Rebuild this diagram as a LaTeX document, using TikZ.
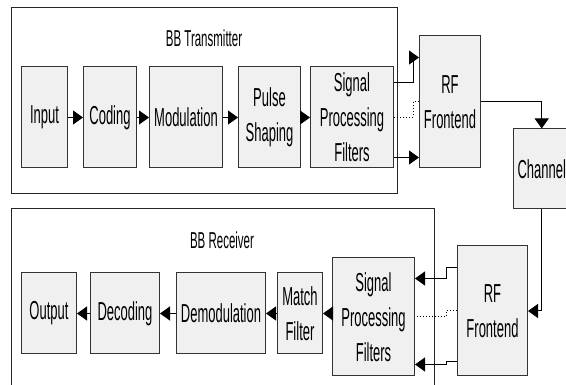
\documentclass[tikz,border=0pt]{standalone}
\usepackage{fontspec}
\setmainfont{Liberation Sans}[FakeStretch=0.5]
\usetikzlibrary{positioning, arrows.meta}

\begin{document}
\begin{tikzpicture}[
        x=1pt, y=-1pt,
        font=\fontsize{26}{35}\selectfont,
        block/.style={
            rectangle,
            draw=black!80,
            fill=gray!12,
            line width=1pt,
            inner sep=2pt,
            minimum height=101pt,
            text centered,
            align=center
        },
        frame/.style={draw=black!85, line width=1pt},
        title/.style={font=\fontsize{23}{26}\selectfont},
        line/.style={draw, -{Triangle[length=10pt, width=14pt]}, line width=1pt},
        dots/.style={draw, dotted, line width=1pt}
    ]
        \clip (0,0) rectangle (566,385);

        % Frames
        \draw [frame] (11,8) rectangle (397,194);
        \draw [frame] (11,400) |- (434,209) -- (434,400);
        \node [title] (txtitle) at (204,38) {BB Transmitter};
        \node [title] (rxtitle) at (222,240) {BB Receiver};

        % Transmitter nodes
        \node [block, minimum width=46pt, anchor=west] (input) at (21,117.5) {Input};
        \node [block, minimum width=53pt, right=15pt of input] (coding) {Coding};
        \node [block, minimum width=73pt, right=12pt of coding] (mod) {Modulation};
        \node [block, minimum width=62pt, right=15pt of mod] (pulse) {Pulse\\Shaping};
        \node [block, minimum width=83pt, right=9pt of pulse] (spftx) {Signal\\Processing\\Filters};
        \node [block, minimum width=61pt, minimum height=132pt, anchor=west] (rftx) at (419,102) {RF\\Frontend};

        % Channel
        \node [block, minimum height=80pt, inner xsep=4pt, anchor=west] (channel) at (513,169) {Channel};

        % Receiver nodes
        \node [block, minimum width=55pt, minimum height=81pt, anchor=west] (output) at (21,313.5) {Output};
        \node [block, minimum width=69pt, minimum height=81pt, right=13pt of output] (decoding) {Decoding};
        \node [block, minimum width=89pt, minimum height=81pt, right=16pt of decoding] (demod) {Demodulation};
        \node [block, minimum width=45pt, minimum height=81pt, right=11pt of demod] (match) {Match\\Filter};
        \node [block, minimum width=82pt, minimum height=118pt, anchor=west] (spfrx) at (332,317) {Signal\\Processing\\Filters};
        \node [block, minimum width=70pt, minimum height=130pt, anchor=west] (rfrx) at (457,311) {RF\\Frontend};

        % Transmitter paths
        \path [line] (input) -- (coding);
        \path [line] (coding) -- (mod);
        \path [line] (mod) -- (pulse);
        \path [line] (pulse) -- (spftx);
        \path [line] ([yshift=-16pt]spftx.north east) -- ++(19,0) |- ([yshift=-22pt]rftx.north west);
        \path [dots] (spftx.east) -- ++(19,0) |- (rftx.west);
        \path [line] ([yshift=11pt]spftx.south east) -- ([yshift=11pt]rftx.south west);

        % Channel paths
        \path [line] (rftx.east) -| (channel.north);
        \path [line] (channel.south) |- (rfrx.east);

        % Receiver paths
        \path [line] ([yshift=-22pt]rfrx.north west) -- ++(-11,0) |- ([yshift=-21pt]spfrx.north east);
        \path [dots] (rfrx.west) -- ++(-11,0) |- (spfrx.east);
        \path [line] ([yshift=15pt]rfrx.south west) -- ++(-11,0) |- ([yshift=12pt]spfrx.south east);
        \path [line] (spfrx.west |- match.east) -- (match.east);
        \path [line] (match) -- (demod);
        \path [line] (demod) -- (decoding);
        \path [line] (decoding) -- (output);
    \end{tikzpicture}
\end{document}
